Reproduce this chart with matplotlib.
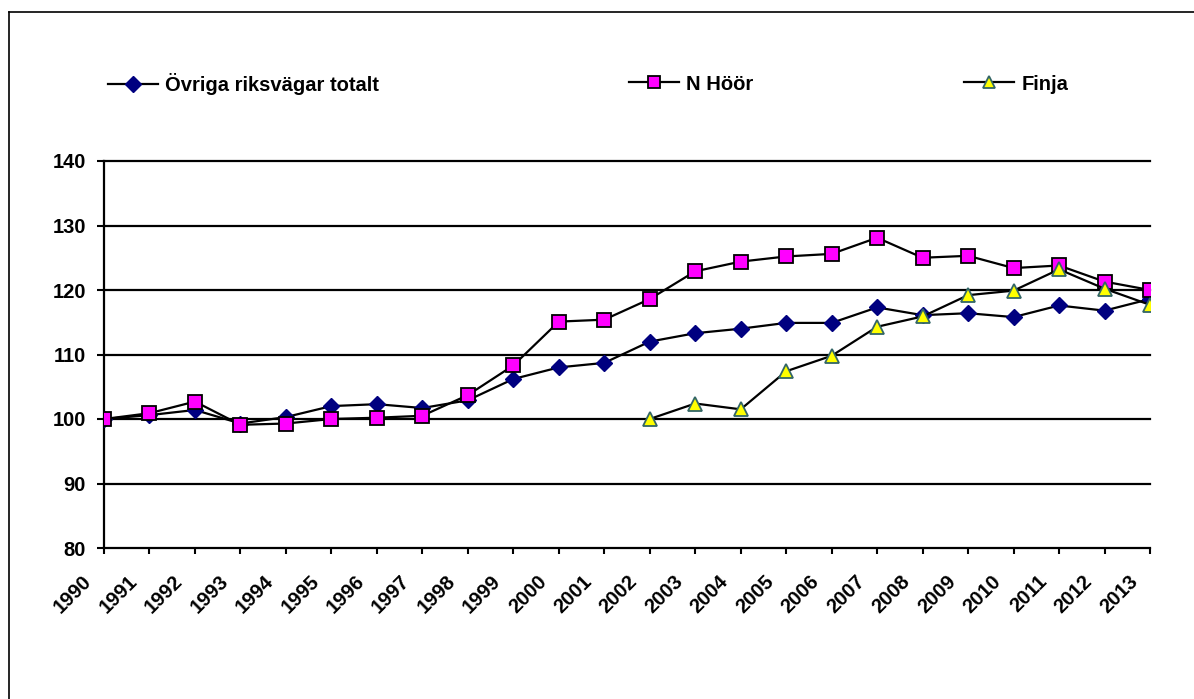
import matplotlib
matplotlib.use("Agg")
import matplotlib.pyplot as plt
from matplotlib.lines import Line2D
from matplotlib.transforms import ScaledTranslation

plt.rcParams["font.family"] = ["Liberation Sans", "DejaVu Sans"]
plt.rcParams["font.weight"] = "bold"

years = list(range(1990, 2014))
ovriga = [100.0, 100.6, 101.4, 99.3, 100.3, 102.0, 102.3, 101.7, 102.9, 106.2,
          108.0, 108.7, 112.0, 113.3, 114.0, 114.9, 114.9, 117.3, 116.1, 116.4,
          115.8, 117.6, 116.8, 118.6]
n_hoor = [100.0, 100.9, 102.7, 99.1, 99.3, 100.0, 100.2, 100.5, 103.7, 108.3,
          115.1, 115.4, 118.6, 122.9, 124.4, 125.2, 125.6, 128.1, 125.0, 125.3,
          123.4, 123.8, 121.3, 120.0]
finja_years = list(range(2002, 2014))
finja = [100.0, 102.4, 101.5, 107.4, 109.8, 114.3, 115.9, 119.2, 119.9, 123.2,
         120.2, 117.7]

W, H = 1194, 699
fig = plt.figure(figsize=(W / 100, H / 100), dpi=100)
ax = fig.add_axes([104 / W, 1 - 548 / H, (1150 - 104) / W, (548 - 161) / H])

l1, = ax.plot(years, ovriga, color="black", lw=1.6, marker="D", ms=8.5,
              mfc="#000080", mec="#000080", label="Övriga riksvägar totalt", zorder=3)
l2, = ax.plot(years, n_hoor, color="black", lw=1.6, marker="s", ms=9.5,
              mfc="#FF00FF", mec="black", mew=1.3, label="N Höör", zorder=4)
l3, = ax.plot(finja_years, finja, color="black", lw=1.6, marker="^", ms=9.5,
              mfc="#FFFF00", mec="#336666", mew=1.3, label="Finja", zorder=5)

ax.set_xlim(1990, 2013)
ax.set_ylim(80, 140)
ax.set_yticks(range(80, 141, 10))
ax.set_xticks(years)
ax.set_xticklabels([str(y) for y in years], rotation=45, ha="right",
                   rotation_mode="anchor")
for y in range(90, 141, 10):
    ax.axhline(y, color="black", lw=1.6, zorder=1, clip_on=False)
for s in ("top", "right"):
    ax.spines[s].set_visible(False)
for s in ("left", "bottom"):
    ax.spines[s].set_linewidth(1.6)
ax.tick_params(axis="y", direction="out", length=5, width=1.5,
               labelsize=14.5, pad=8)
ax.tick_params(axis="x", direction="out", length=4, width=1.5,
               labelsize=14.5, pad=13)
shift = ScaledTranslation(-22 / 100, 0, fig.dpi_scale_trans)
for lab in ax.get_xticklabels():
    lab.set_transform(lab.get_transform() + shift)
for lab in ax.get_xticklabels() + ax.get_yticklabels():
    lab.set_fontweight("bold")

# legend entries spread across the top
for handle, x in ((l1, 100), (l2, 621), (l3, 956)):
    fig.legend(handles=[handle], loc="center left",
               bbox_to_anchor=(x / W, 1 - 84 / H), frameon=False,
               handlelength=2.5, handletextpad=0.35, borderaxespad=0,
               markerscale=0.95,
               prop={"size": 14.5, "weight": "bold"})

# outer frame (left and top edges visible)
fig.add_artist(Line2D([9 / W, 9 / W], [0, 1 - 12 / H], color="black", lw=1.2,
                      transform=fig.transFigure))
fig.add_artist(Line2D([9 / W, 1], [1 - 12 / H, 1 - 12 / H], color="black", lw=1.2,
                      transform=fig.transFigure))

fig.savefig("out.png", dpi=100)
